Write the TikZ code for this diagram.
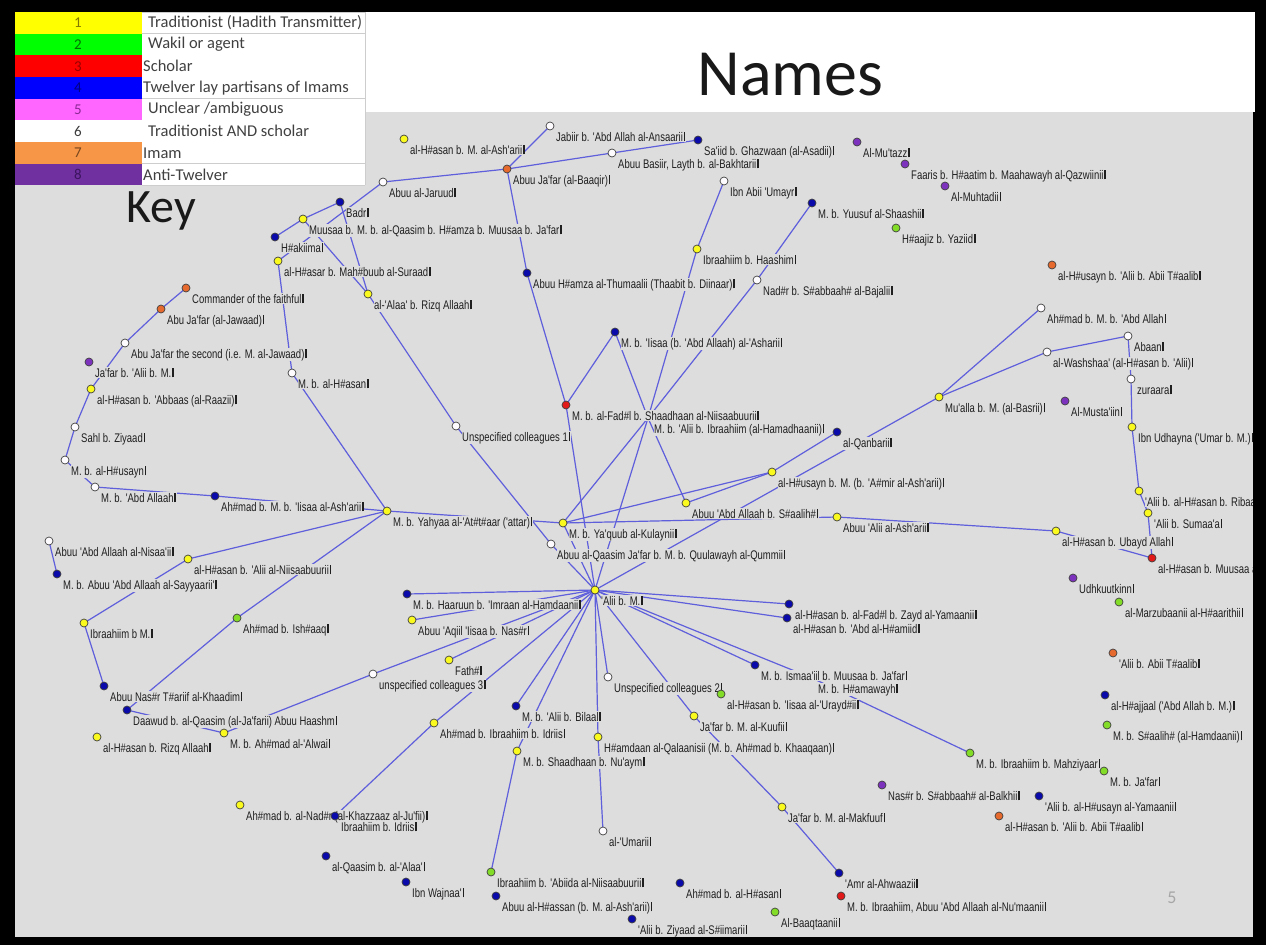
\documentclass[tikz,border=0pt]{standalone}
\usepackage{fontspec}
\setmainfont{Liberation Sans}
\newfontfamily\labfont[FakeStretch=0.76]{Liberation Sans}
\newfontfamily\keyfont{Carlito}
\usetikzlibrary{calc}

\definecolor{bg}{RGB}{221,221,221}
\definecolor{edgec}{RGB}{95,95,220}
\definecolor{cY}{RGB}{250,250,30}
\definecolor{cG}{RGB}{130,220,40}
\definecolor{cR}{RGB}{225,25,25}
\definecolor{cB}{RGB}{10,10,170}
\definecolor{cP}{RGB}{125,50,190}
\definecolor{cO}{RGB}{230,105,45}
\definecolor{cW}{RGB}{255,252,255}
\definecolor{legtext}{RGB}{64,64,64}
\definecolor{legline}{RGB}{205,205,205}
\definecolor{kYellow}{RGB}{255,255,0}
\definecolor{kGreen}{RGB}{0,255,0}
\definecolor{kRed}{RGB}{255,0,0}
\definecolor{kBlue}{RGB}{0,0,255}
\definecolor{kPink}{RGB}{255,102,255}
\definecolor{kOrange}{RGB}{247,150,70}
\definecolor{kPurple}{RGB}{112,48,160}
\definecolor{nYellow}{RGB}{130,120,0}
\definecolor{nGreen}{RGB}{0,110,0}
\definecolor{nRed}{RGB}{150,0,0}
\definecolor{nBlue}{RGB}{0,0,130}
\definecolor{nPink}{RGB}{140,40,150}
\definecolor{nWhite}{RGB}{60,60,60}
\definecolor{nOrange}{RGB}{120,70,30}
\definecolor{nPurple}{RGB}{60,20,95}

% bar that closes every name label
\newcommand\labbar{\kern0.8pt\rule[-0.3pt]{1.6pt}{9.3pt}}

% name, x, y, colour, label
\newcommand\people{%
\person{hasMA}{404}{139}{cY}{al-H\#asan b. M. al-Ash'arii}
\person{jabir}{550}{126}{cW}{Jabiir b. 'Abd Allah al-Ansaarii}
\person{saiid}{698}{140}{cB}{Sa'iid b. Ghazwaan (al-Asadii)}
\person{basir}{612}{153}{cW}{Abuu Basiir, Layth b. al-Bakhtarii}
\person{baqir}{507}{169}{cO}{Abuu Ja'far (al-Baaqir)}
\person{jarud}{383}{182}{cW}{Abuu al-Jaruud}
\person{umayr}{724}{181}{cW}{Ibn Abii 'Umayr}
\person{hashim}{697}{249}{cY}{Ibraahiim b. Haashim}
\person{thumali}{527}{273}{cB}{Abuu H\#amza al-Thumaalii (Thaabit b. Diinaar)}
\person{nadr}{757}{280}{cW}{Nad\#r b. S\#abbaah\# al-Bajalii}
\person{shashi}{812}{203}{cB}{M. b. Yuusuf al-Shaashii}
\person{mutazz}{857}{142}{cP}{Al-Mu'tazz}
\person{faris}{905}{164}{cP}{Faaris b. H\#aatim b. Maahawayh al-Qazwiinii}
\person{muhtadi}{945}{186}{cP}{Al-Muhtadii}
\person{hajiz}{896}{228}{cG}{H\#aajiz b. Yaziid}
\person{husaynAli}{1052}{265}{cO}{al-H\#usayn b. 'Alii b. Abii T\#aalib}
\person{badr}{340}{202}{cB}{Badr}
\person{musa}{303}{219}{cY}{Muusaa b. M. b. al-Qaasim b. H\#amza b. Muusaa b. Ja'far}
\person{hakima}{275}{237}{cB}{H\#akiima}
\person{hasar}{278}{261}{cY}{al-H\#asar b. Mah\#buub al-Suraad}
\person{alaa}{368}{294}{cY}{al-'Alaa' b. Rizq Allaah}
\person{commander}{186}{288}{cO}{Commander of the faithful}
\person{jawad}{161}{309}{cO}{Abu Ja'far (al-Jawaad)}
\person{second}{125}{343}{cW}{Abu Ja'far the second (i.e. M. al-Jawaad)}
\person{jafarAli}{89}{362}{cP}{Ja'far b. 'Alii b. M.}
\person{hasAbbas}{91}{389}{cY}{al-H\#asan b. 'Abbaas (al-Raazii)}
\person{sahl}{75}{427}{cW}{Sahl b. Ziyaad}
\person{mhusayn}{65}{460}{cW}{M. b. al-H\#usayn}
\person{mhasan}{292}{373}{cW}{M. b. al-H\#asan}
\person{mabd}{95}{487}{cW}{M. b. 'Abd Allaah}
\person{ahmadIsa}{215}{496}{cB}{Ah\#mad b. M. b. 'Iisaa al-Ash'arii}
\person{attar}{387}{511}{cY}{M. b. Yahyaa al-'At\#t\#aar ('attar)}
\person{nisai}{49}{541}{cW}{Abuu 'Abd Allaah al-Nisaa'ii}
\person{sayyari}{57}{574}{cB}{M. b. Abuu 'Abd Allaah al-Sayyaarii'}
\person{hasNis}{188}{559}{cY}{al-H\#asan b. 'Alii al-Niisaabuurii}
\person{ibrM}{84}{623}{cY}{Ibraahiim b M.}
\person{ahmIshaq}{237}{618}{cG}{Ah\#mad b. Ish\#aaq}
\person{nasr}{104}{686}{cB}{Abuu Nas\#r T\#ariif al-Khaadim}
\person{uctre}{373}{674}{cW}{unspecified colleagues 3}
\person{dawud}{127}{710}{cB}{Daawud b. al-Qaasim (al-Ja'farii) Abuu Haashm}
\person{hasRizq}{97}{737}{cY}{al-H\#asan b. Rizq Allaah}
\person{alwai}{224}{733}{cY}{M. b. Ah\#mad al-'Alwai}
\person{ahmNadr}{240}{805}{cY}{Ah\#mad b. al-Nad\#r (al-Khazzaaz al-Ju'fii)}
\person{ibrIdris}{335}{816}{cB}{Ibraahiim b. Idriis}
\person{qasimAla}{326}{856}{cB}{al-Qaasim b. al-'Alaa'}
\person{wajna}{406}{882}{cB}{Ibn Wajnaa'}
\person{misa}{615}{332}{cB}{M. b. 'Iisaa (b. 'Abd Allaah) al-'Asharii}
\person{fadl}{566}{405}{cR}{M. b. al-Fad\#l b. Shaadhaan al-Niisaabuurii}
\person{mai}{648}{418}{none}{M. b. 'Alii b. Ibraahiim (al-Hamadhaanii)}
\person{ucone}{456}{426}{cW}{Unspecified colleagues 1}
\person{husaynM}{772}{472}{cY}{al-H\#usayn b. M. (b. 'A\#mir al-Ash'arii)}
\person{qanbari}{837}{432}{cB}{al-Qanbarii}
\person{mualla}{939}{397}{cY}{Mu'alla b. M. (al-Basrii)}
\person{ahmAbd}{1041}{308}{cW}{Ah\#mad b. M. b. 'Abd Allah}
\person{aban}{1128}{336}{cW}{Abaan}
\person{washsha}{1047}{352}{cW}{al-Washshaa' (al-H\#asan b. 'Alii)}
\person{zurara}{1131}{379}{cW}{zuraara}
\person{mustain}{1065}{401}{cP}{Al-Musta'iin}
\person{udhayna}{1132}{427}{cY}{Ibn Udhayna ('Umar b. M.)}
\person{ribat}{1139}{491}{cY}{'Alii b. al-H\#asan b. Ribaat\#}
\person{sumaa}{1148}{513}{cY}{'Alii b. Sumaa'a}
\person{ubayd}{1056}{531}{cY}{al-H\#asan b. Ubayd Allah}
\person{hasMusa}{1152}{558}{cR}{al-H\#asan b. Muusaa al-Nawbakhtii}
\person{udhk}{1073}{578}{cP}{Udhkuutkinn}
\person{marzu}{1119}{602}{cG}{al-Marzubaanii al-H\#aarithii}
\person{aliTalib}{1113}{653}{cO}{'Alii b. Abii T\#aalib}
\person{hajjal}{1105}{695}{cB}{al-H\#ajjaal ('Abd Allah b. M.)}
\person{salih}{1107}{725}{cG}{M. b. S\#aalih\# (al-Hamdaanii)}
\person{mjafar}{1104}{771}{cG}{M. b. Ja'far}
\person{aliYam}{1039}{796}{cB}{'Alii b. al-H\#usayn al-Yamaanii}
\person{hasAli}{999}{816}{cO}{al-H\#asan b. 'Alii b. Abii T\#aalib}
\person{nasrBal}{882}{785}{cP}{Nas\#r b. S\#abbaah\# al-Balkhii}
\person{mahz}{970}{753}{cG}{M. b. Ibraahiim b. Mahziyaar}
\person{amr}{839}{873}{cB}{'Amr al-Ahwaazii}
\person{numani}{841}{896}{cR}{M. b. Ibraahiim, Abuu 'Abd Allaah al-Nu'maanii}
\person{kulayni}{563}{523}{cY}{M. b. Ya'quub al-Kulaynii}
\person{qulawayh}{551}{544}{cW}{Abuu al-Qaasim Ja'far b. M. b. Quulawayh al-Qummii}
\person{salihAbd}{686}{503}{cY}{Abuu 'Abd Allaah b. S\#aalih\#}
\person{aliAsh}{837}{517}{cY}{Abuu 'Alii al-Ash'arii}
\person{haarun}{407}{594}{cB}{M. b. Haaruun b. 'Imraan al-Hamdaanii}
\person{aqil}{412}{620}{cY}{Abuu 'Aqiil 'Iisaa b. Nas\#r}
\person{fath}{449}{660}{cY}{Fath\#}
\person{uctwo}{608}{677}{cW}{Unspecified colleagues 2}
\person{ismail}{755}{665}{cB}{M. b. Ismaa'iil b. Muusaa b. Ja'far}
\person{hasFadl}{789}{604}{cB}{al-H\#asan b. al-Fad\#l b. Zayd al-Yamaanii}
\person{hasAbdH}{787}{618}{cB}{al-H\#asan b. 'Abd al-H\#amiid}
\person{hamaw}{812}{678}{none}{M. b. H\#amawayh}
\person{urayd}{721}{694}{cG}{al-H\#asan b. 'Iisaa al-'Urayd\#ii}
\person{bilal}{516}{706}{cB}{M. b. 'Alii b. Bilaal}
\person{ahmIbr}{434}{723}{cY}{Ah\#mad b. Ibraahiim b. Idriis}
\person{shadhan}{517}{751}{cY}{M. b. Shaadhaan b. Nu'aym}
\person{hamdan}{598}{737}{cY}{H\#amdaan al-Qalaanisii (M. b. Ah\#mad b. Khaaqaan)}
\person{kufi}{694}{716}{cY}{Ja'far b. M. al-Kuufii}
\person{makfuf}{782}{807}{cY}{Ja'far b. M. al-Makfuuf}
\person{umari}{603}{831}{cW}{al-'Umarii}
\person{abiida}{491}{872}{cG}{Ibraahiim b. 'Abiida al-Niisaabuurii}
\person{abuHassan}{496}{896}{cB}{Abuu al-H\#assan (b. M. al-Ash'arii)}
\person{ahmHasan}{680}{883}{cB}{Ah\#mad b. al-H\#asan}
\person{ziyad}{632}{919}{cB}{'Alii b. Ziyaad al-S\#iimarii}
\person{baqtani}{775}{912}{cG}{Al-Baaqtaanii}
\person{alim}{595}{590}{cY}{'Alii b. M.}
}

\tikzset{
  edge/.style={draw=edgec, line width=1.2pt},
  lbl/.style={anchor=base west, font=\labfont\fontsize{12.5}{13}\selectfont,
    text=black!88, fill=bg, inner sep=0.5pt},
  persondot/.style={circle, draw=black!75, line width=0.7pt,
    minimum size=8pt, inner sep=0pt},
  legnum/.style={font=\keyfont\fontsize{15}{15}\selectfont},
  legtxt/.style={anchor=west, text=legtext, inner sep=0pt,
    font=\keyfont\fontsize{16.5}{17}\selectfont}
}

\begin{document}
\begin{tikzpicture}[x=1pt,y=-1pt]
\useasboundingbox (0,0) rectangle (1266,945);
% frame, header and canvas
\fill[black] (0,0) rectangle (1266,945);
\fill[white] (15,12) rectangle (1255,112);
\fill[bg] (15,112) rectangle (1253,937);

% positions
\def\person#1#2#3#4#5{\coordinate (#1) at (#2,#3);}
\people

% ties between persons
\draw[edge] (jarud) -- (baqir) -- (jabir);
\draw[edge] (baqir) -- (basir) -- (saiid);
\draw[edge] (baqir) -- (thumali) -- (fadl) -- (alim);
\draw[edge] (misa) -- (fadl);
\draw[edge] (jarud) -- (hasar) -- (mhasan) -- (attar);
\draw[edge] (badr) -- (musa) -- (hakima);
\draw[edge] (musa) -- (alaa);
\draw[edge] (badr) -- (alaa) -- (ucone) -- (qulawayh);
\draw[edge] (umayr) -- (hashim) -- (mai);
\draw[edge] (shashi) -- (nadr) -- (mai);
\draw[edge] (misa) -- (mai);
\draw[edge] (mai) -- (kulayni);
\draw[edge] (mai) -- (alim);
\draw[edge] (mai) -- (salihAbd);
\draw[edge] (commander) -- (jawad) -- (second) -- (hasAbbas) -- (sahl) -- (mhusayn) -- (mabd) -- (ahmadIsa) -- (attar);
\draw[edge] (attar) -- (hasNis) -- (ibrM) -- (nasr);
\draw[edge] (nisai) -- (sayyari);
\draw[edge] (attar) -- (ahmIshaq) -- (dawud);
\draw[edge] (uctre) -- (alwai) -- (dawud);
\draw[edge] (uctre) -- (alim);
\draw[edge] (attar) -- (kulayni) -- (aliAsh) -- (ubayd) -- (hasMusa);
\draw[edge] (mualla) -- (ahmAbd);
\draw[edge] (mualla) -- (washsha) -- (aban) -- (zurara) -- (udhayna) -- (ribat) -- (sumaa) -- (hasMusa);
\draw[edge] (kulayni) -- (husaynM);
\draw[edge] (salihAbd) -- (husaynM) -- (qanbari);
\draw[edge] (alim) -- (mualla);
\draw[edge] (alim) -- (kulayni);
\draw[edge] (alim) -- (qulawayh);
\draw[edge] (alim) -- (haarun);
\draw[edge] (alim) -- (aqil);
\draw[edge] (alim) -- (fath);
\draw[edge] (alim) -- (ahmIbr) -- (ibrIdris);
\draw[edge] (alim) -- (bilal);
\draw[edge] (alim) -- (shadhan) -- (abiida);
\draw[edge] (alim) -- (hamdan) -- (umari);
\draw[edge] (alim) -- (uctwo);
\draw[edge] (alim) -- (kufi) -- (makfuf) -- (amr);
\draw[edge] (alim) -- (ismail);
\draw[edge] (alim) -- (hasFadl);
\draw[edge] (alim) -- (hasAbdH);
\draw[edge] (alim) -- (hamaw) -- (mahz);

% name labels
\def\person#1#2#3#4#5{\node[lbl] (#1-t) at ($(#1)+(5.5,15)$) {#5\labbar};}
\people

% person dots
\def\nonecol{none}
\def\person#1#2#3#4#5{\def\thiscol{#4}\ifx\thiscol\nonecol\else
  \node[persondot, fill=#4] (#1-d) at (#1) {};\fi}
\people

% key table
\foreach \i/\col/\numcol/\tx/\txt in {
  0/kYellow/nYellow/148/{Traditionist (Hadith Transmitter)},
  1/kGreen/nGreen/148/{Wakil or agent},
  2/kRed/nRed/143/{Scholar},
  3/kBlue/nBlue/143/{Twelver lay partisans of Imams},
  4/kPink/nPink/148/{Unclear /ambiguous},
  5/white/nWhite/148/{Traditionist AND scholar},
  6/kOrange/nOrange/143/{Imam},
  7/kPurple/nPurple/143/{Anti-Twelver}} {
  \fill[\col] (15,{12+21.65*\i}) rectangle (142,{12+21.65*(\i+1)});
  \fill[white] (142,{12+21.65*\i}) rectangle (365,{12+21.65*(\i+1)});
  \draw[legline, line width=0.8pt] (142,{12+21.65*(\i+1)}) -- (365,{12+21.65*(\i+1)});
  \node[legnum, text=\numcol] (num\i) at (78,{23+21.65*\i}) {\the\numexpr\i+1\relax};
  \node[legtxt] (leg\i) at (\tx,{23+21.65*\i}) {\txt};
}
\draw[legline, line width=0.8pt] (142,12) -- (365,12) -- (365,185);

% titles
\node[anchor=base west, font=\keyfont\fontsize{48}{48}\selectfont, text=black!90] (keytitle) at (123,222) {Key};
\node[anchor=base west, font=\keyfont\fontsize{66}{66}\selectfont, text=black!90] (title) at (694,95) {Names};
\node[font=\keyfont\fontsize{18}{18}\selectfont, text=black!35] (pageno) at (1172,898) {5};

% black frame over any overflowing label
\fill[black] (1253,112) rectangle (1266,945);
\fill[black] (0,937) rectangle (1266,945);
\end{tikzpicture}
\end{document}
